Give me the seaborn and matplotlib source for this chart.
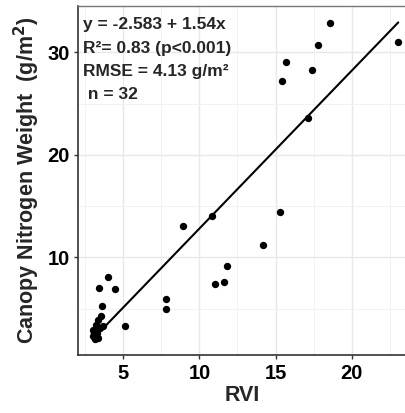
import numpy as np
import pandas as pd
import matplotlib
matplotlib.use("Agg")
import matplotlib.pyplot as plt
import seaborn as sns
from matplotlib.ticker import MultipleLocator

# values
rvi = [3.05, 3.16, 3.38, 4.03, 4.43, 3.64, 3.53, 3.33, 3.66, 5.10,
       7.83, 7.78, 11.03, 11.64, 11.80, 18.60, 17.80, 15.66, 15.40, 17.40,
       17.10, 23.05, 8.93, 10.80, 15.26, 14.20, 3.27, 3.00, 3.45, 3.20,
       3.10, 3.35]
cnw = [2.9, 2.0, 7.0, 8.1, 6.9, 5.3, 4.3, 3.9, 3.3, 3.35,
       5.9, 5.0, 7.4, 7.6, 9.2, 32.9, 30.7, 29.1, 27.2, 28.3,
       23.6, 31.0, 13.1, 14.0, 14.4, 11.2, 2.6, 2.3, 3.1, 3.4,
       2.6, 2.1]
intercept = -2.583
slope = 1.54
stats_lines = ["y = -2.583 + 1.54x", "R\u00b2= 0.83 (p<0.001)",
               "RMSE = 4.13 g/m\u00b2", " n = 32"]
x_ticks = [5, 10, 15, 20]
y_ticks = [10, 20, 30]

df = pd.DataFrame({"RVI": rvi, "CNW": cnw})

sns.set_style("whitegrid")
plt.rcParams["font.family"] = ["Liberation Sans", "DejaVu Sans"]

fig = plt.figure(figsize=(4.06, 4.13), dpi=100)
ax = fig.add_axes([0.192, 0.140, 0.808, 0.845])

sns.scatterplot(data=df, x="RVI", y="CNW", color="black", s=28,
                edgecolor="black", linewidth=0, ax=ax, zorder=3)

xl = np.linspace(df["RVI"].min(), df["RVI"].max(), 50)
ax.plot(xl, intercept + slope * xl, color="black", lw=1.5, zorder=2)

ax.set_xlim(2.03, 23.56)
ax.set_ylim(0.47, 34.5)
ax.set_xticks(x_ticks)
ax.set_yticks(y_ticks)
ax.xaxis.set_minor_locator(MultipleLocator(2.5))
ax.yaxis.set_minor_locator(MultipleLocator(5))
ax.grid(which="major", color="#e8e8e8", lw=1.0)
ax.grid(which="minor", color="#f2f2f2", lw=0.7)
ax.set_axisbelow(True)

for s in ["left", "bottom"]:
    ax.spines[s].set_color("#333333")
    ax.spines[s].set_linewidth(1.2)
ax.spines["top"].set_color("#777777")
ax.spines["top"].set_linewidth(1.0)
ax.spines["right"].set_visible(False)

ax.tick_params(axis="both", which="major", length=3, width=1,
               color="#333333", labelsize=14.5, pad=3, bottom=True, left=True)
ax.tick_params(which="minor", length=0)
for lab in ax.get_xticklabels() + ax.get_yticklabels():
    lab.set_fontweight("bold")
    lab.set_color("black")

ax.set_xlabel("RVI", fontsize=15.5, fontweight="bold", labelpad=2)
ax.set_ylabel("Canopy Nitrogen Weight  (g/m$^{\\mathbf{2}}$)", fontsize=15.5,
              fontweight="bold", labelpad=4)

for i, line in enumerate(stats_lines):
    ax.text(0.015, 0.947 - i * 0.067, line, transform=ax.transAxes,
            fontsize=12.5, fontweight="bold", va="center", ha="left")

fig.savefig("out.png", dpi=100)
